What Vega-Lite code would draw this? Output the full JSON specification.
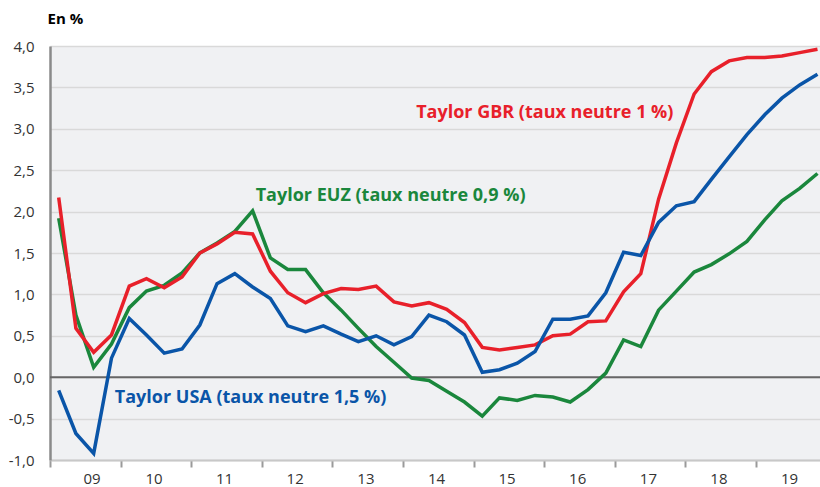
{
  "$schema": "https://vega.github.io/schema/vega-lite/v6.json",
  "width": 770,
  "height": 414,
  "autosize": {"type": "none"},
  "padding": {"left": 50, "top": 46, "right": 0, "bottom": 27},
  "background": "white",
  "config": {
    "view": {"fill": "#f0f1f3", "stroke": null},
    "font": "Open Sans",
    "locale": {"number": {"decimal": ",", "thousands": ".", "grouping": [3], "currency": ["", " €"], "minus": "-"}}
  },
  "datasets": {
    "series": [
      {"date": "2009-02-15", "USA": -0.16, "EUZ": 1.92, "GBR": 2.17},
      {"date": "2009-05-15", "USA": -0.68, "EUZ": 0.75, "GBR": 0.59},
      {"date": "2009-08-15", "USA": -0.92, "EUZ": 0.12, "GBR": 0.30},
      {"date": "2009-11-15", "USA": 0.23, "EUZ": 0.40, "GBR": 0.51},
      {"date": "2010-02-15", "USA": 0.71, "EUZ": 0.84, "GBR": 1.10},
      {"date": "2010-05-15", "USA": 0.51, "EUZ": 1.04, "GBR": 1.19},
      {"date": "2010-08-15", "USA": 0.29, "EUZ": 1.11, "GBR": 1.08},
      {"date": "2010-11-15", "USA": 0.34, "EUZ": 1.26, "GBR": 1.21},
      {"date": "2011-02-15", "USA": 0.63, "EUZ": 1.50, "GBR": 1.50},
      {"date": "2011-05-15", "USA": 1.13, "EUZ": 1.62, "GBR": 1.61},
      {"date": "2011-08-15", "USA": 1.25, "EUZ": 1.76, "GBR": 1.75},
      {"date": "2011-11-15", "USA": 1.09, "EUZ": 2.01, "GBR": 1.73},
      {"date": "2012-02-15", "USA": 0.95, "EUZ": 1.44, "GBR": 1.28},
      {"date": "2012-05-15", "USA": 0.62, "EUZ": 1.30, "GBR": 1.02},
      {"date": "2012-08-15", "USA": 0.55, "EUZ": 1.30, "GBR": 0.90},
      {"date": "2012-11-15", "USA": 0.62, "EUZ": 1.02, "GBR": 1.01},
      {"date": "2013-02-15", "USA": 0.52, "EUZ": 0.81, "GBR": 1.07},
      {"date": "2013-05-15", "USA": 0.43, "EUZ": 0.59, "GBR": 1.06},
      {"date": "2013-08-15", "USA": 0.50, "EUZ": 0.37, "GBR": 1.10},
      {"date": "2013-11-15", "USA": 0.39, "EUZ": 0.18, "GBR": 0.91},
      {"date": "2014-02-15", "USA": 0.49, "EUZ": -0.01, "GBR": 0.86},
      {"date": "2014-05-15", "USA": 0.75, "EUZ": -0.04, "GBR": 0.90},
      {"date": "2014-08-15", "USA": 0.67, "EUZ": -0.17, "GBR": 0.82},
      {"date": "2014-11-15", "USA": 0.51, "EUZ": -0.30, "GBR": 0.66},
      {"date": "2015-02-15", "USA": 0.06, "EUZ": -0.47, "GBR": 0.36},
      {"date": "2015-05-15", "USA": 0.09, "EUZ": -0.25, "GBR": 0.33},
      {"date": "2015-08-15", "USA": 0.17, "EUZ": -0.28, "GBR": 0.36},
      {"date": "2015-11-15", "USA": 0.31, "EUZ": -0.22, "GBR": 0.39},
      {"date": "2016-02-15", "USA": 0.70, "EUZ": -0.24, "GBR": 0.50},
      {"date": "2016-05-15", "USA": 0.70, "EUZ": -0.30, "GBR": 0.52},
      {"date": "2016-08-15", "USA": 0.74, "EUZ": -0.15, "GBR": 0.67},
      {"date": "2016-11-15", "USA": 1.02, "EUZ": 0.05, "GBR": 0.68},
      {"date": "2017-02-15", "USA": 1.51, "EUZ": 0.45, "GBR": 1.03},
      {"date": "2017-05-15", "USA": 1.47, "EUZ": 0.37, "GBR": 1.25},
      {"date": "2017-08-15", "USA": 1.87, "EUZ": 0.81, "GBR": 2.15},
      {"date": "2017-11-15", "USA": 2.07, "EUZ": 1.04, "GBR": 2.83},
      {"date": "2018-02-15", "USA": 2.12, "EUZ": 1.27, "GBR": 3.42},
      {"date": "2018-05-15", "USA": 2.39, "EUZ": 1.36, "GBR": 3.69},
      {"date": "2018-08-15", "USA": 2.66, "EUZ": 1.49, "GBR": 3.82},
      {"date": "2018-11-15", "USA": 2.93, "EUZ": 1.64, "GBR": 3.86},
      {"date": "2019-02-15", "USA": 3.17, "EUZ": 1.90, "GBR": 3.86},
      {"date": "2019-05-15", "USA": 3.37, "EUZ": 2.13, "GBR": 3.88},
      {"date": "2019-08-15", "USA": 3.53, "EUZ": 2.28, "GBR": 3.92},
      {"date": "2019-11-15", "USA": 3.66, "EUZ": 2.46, "GBR": 3.96}
    ],
    "labels": [
      {"date": "2014-03-10", "value": 3.19, "series": "GBR", "text": "Taylor GBR (taux neutre 1 %)"},
      {"date": "2011-12-01", "value": 2.19, "series": "EUZ", "text": "Taylor EUZ (taux neutre 0,9 %)"},
      {"date": "2009-12-02", "value": -0.25, "series": "USA", "text": "Taylor USA (taux neutre 1,5 %)"}
    ],
    "zero": [{"value": 0}]
  },
  "layer": [
    {
      "data": {"name": "zero"},
      "mark": {"type": "rule", "color": "#666666", "strokeWidth": 2},
      "encoding": {"y": {"field": "value", "type": "quantitative"}}
    },
    {
      "data": {"name": "series"},
      "transform": [{"fold": ["EUZ", "GBR", "USA"], "as": ["series", "value"]}],
      "mark": {"type": "line", "strokeWidth": 3.5, "strokeJoin": "miter", "clip": true},
      "encoding": {
        "x": {
          "field": "date", "type": "temporal",
          "scale": {"type": "utc", "domain": ["2009-01-01", "2019-11-28"]},
          "axis": {
            "title": null, "grid": false, "format": "%y",
            "tickCount": {"interval": "year", "step": 1},
            "labelOffset": 33, "labelFontSize": 15, "labelColor": "#333333",
            "labelPadding": 4, "tickSize": 7, "tickWidth": 2, "tickColor": "#9a9a9a",
            "domainColor": "#c8c8c8", "domainWidth": 2
          }
        },
        "y": {
          "field": "value", "type": "quantitative",
          "scale": {"domain": [-1, 4], "nice": false, "zero": false},
          "axis": {
            "title": "En %", "titleAngle": 0, "titleAlign": "left", "titleBaseline": "middle",
            "titleX": -3, "titleY": -28, "titleFontSize": 15, "titleFontWeight": "bold", "titleColor": "#000000",
            "values": [-1, -0.5, 0, 0.5, 1, 1.5, 2, 2.5, 3, 3.5, 4],
            "format": ".1f", "labelFontSize": 15, "labelColor": "#333333", "labelPadding": 16,
            "ticks": false, "grid": true, "gridColor": "#d9d9d9", "gridWidth": 1.5,
            "domainColor": "#8a8a8a", "domainWidth": 2.5
          }
        },
        "color": {
          "field": "series", "type": "nominal",
          "scale": {"domain": ["USA", "EUZ", "GBR"], "range": ["#0a55a8", "#1a873c", "#e8202a"]},
          "legend": null
        }
      }
    },
    {
      "data": {"name": "labels"},
      "mark": {"type": "text", "align": "left", "baseline": "middle", "fontWeight": "bold", "fontSize": 18},
      "encoding": {
        "x": {"field": "date", "type": "temporal"},
        "y": {"field": "value", "type": "quantitative"},
        "text": {"field": "text"},
        "color": {"field": "series", "type": "nominal", "legend": null}
      }
    }
  ]
}
